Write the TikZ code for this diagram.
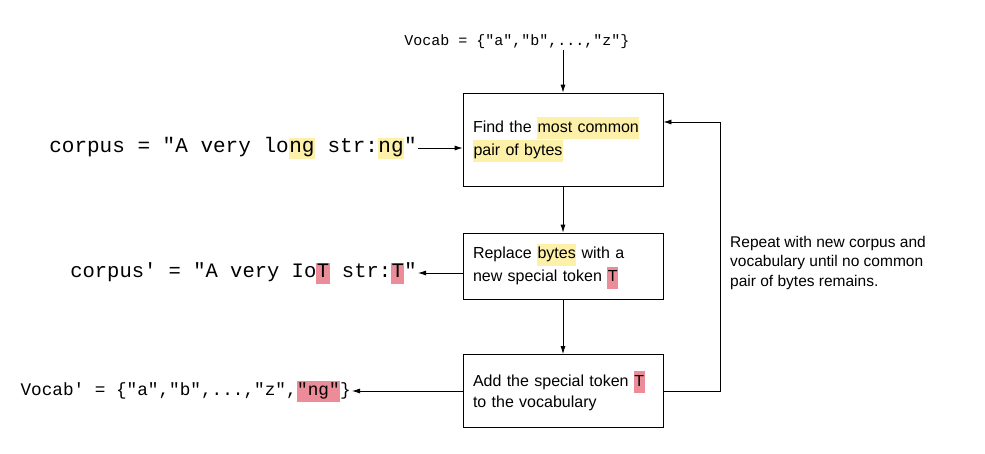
\documentclass[tikz,border=0pt]{standalone}
\usepackage{fontspec}
\setmainfont{Liberation Sans}
\setmonofont{Liberation Mono}
\usetikzlibrary{arrows.meta}
\definecolor{hy}{HTML}{FDF0A8}
\definecolor{hp}{HTML}{EC8C98}
\newcommand{\hly}[1]{{\setlength{\fboxsep}{0.5pt}\colorbox{hy}{\strut #1}}}
\newcommand{\hlp}[1]{{\setlength{\fboxsep}{0.5pt}\colorbox{hp}{\strut #1}}}
\begin{document}
\begin{tikzpicture}[x=1pt,y=-1pt,
  box/.style={draw,line width=0.8pt,minimum width=200pt,align=left,font=\fontsize{16}{21}\selectfont,text width=180pt,inner xsep=10pt},
  code/.style={font=\ttfamily\fontsize{#1}{20}\selectfont,inner sep=1pt},
  arr/.style={-{Latex[length=8pt,width=5pt]},line width=0.8pt}]
\useasboundingbox (0,0) rectangle (985,453);
\node[box,minimum height=93pt] (b1) at (563,139.5) {Find the \hly{most common}\\\hly{pair of bytes}};
\node[box,minimum height=66pt] (b2) at (563,266) {Replace \hly{bytes} with a\\new special token \hlp{T}};
\node[box,minimum height=73pt] (b3) at (563,391) {Add the special token \hlp{T}\\to the vocabulary};
\node[code=15] (v) at (517,42) {Vocab = \{"a","b",...,"z"\}};
\node[code=21,anchor=east] (c1) at (418,148) {corpus = "A very lo\hly{ng} str:\hly{ng}"};
\node[code=20.5,anchor=east] (c2) at (418,273) {corpus' = "A very Io\hlp{T} str:\hlp{T}"};
\node[code=17.7,anchor=east] (v2) at (352,391) {Vocab' = \{"a","b",...,"z",\hlp{"ng"}\}};
\node[anchor=north west,align=left,font=\fontsize{15.5}{19.5}\selectfont,inner sep=0pt] (r) at (730,236) {Repeat with new corpus and\\vocabulary until no common\\pair of bytes remains.};
\coordinate (k1) at (720,391);
\coordinate (k2) at (720,122);
\draw[arr] (b1.north|-v.south) -- (b1.north);
\draw[arr] (b1) -- (b2);
\draw[arr] (b2) -- (b3);
\draw[arr] (c1.east) -- (b1.west|-c1.east);
\draw[arr] (b2.west|-c2.east) -- (c2.east);
\draw[arr] (b3.west|-v2.east) -- (v2.east);
\draw[arr] (b3.east) -- (k1) -- (k2) -- (b1.east|-k2);
\end{tikzpicture}
\end{document}
